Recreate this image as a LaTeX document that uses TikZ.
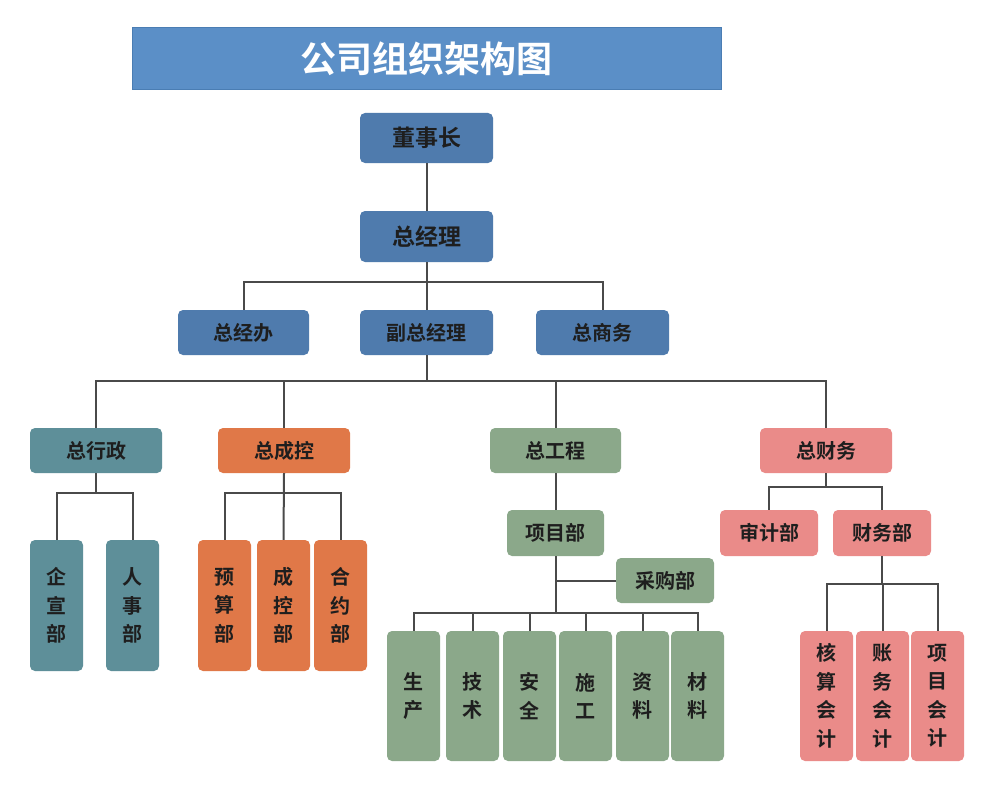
\documentclass[tikz,border=0pt]{standalone}
\usepackage{fontspec}
\newfontfamily\cjk{Noto Sans CJK SC}[BoldFont={Noto Sans CJK SC Bold}]
\definecolor{titlefill}{HTML}{5B8FC7}
\definecolor{titleline}{HTML}{4A7DB3}
\definecolor{bluebox}{HTML}{4F7BAD}
\definecolor{tealbox}{HTML}{5E8F99}
\definecolor{orangebox}{HTML}{E07848}
\definecolor{greenbox}{HTML}{8BA88A}
\definecolor{pinkbox}{HTML}{EA8B89}
\definecolor{txt}{HTML}{1E1E1E}
\definecolor{wire}{HTML}{4A4A4A}
\tikzset{
  box/.style={rectangle, rounded corners=5pt, inner sep=0pt, text=txt, align=center,
    font=\cjk\bfseries\fontsize{20}{28.5}\selectfont},
  bigbox/.style={box, fill=bluebox, minimum width=133pt, minimum height=50pt,
    font=\cjk\bfseries\fontsize{23}{28}\selectfont},
  bluesmall/.style={box, fill=bluebox, minimum width=132pt, minimum height=45pt},
  lvthree/.style={box, minimum width=132pt, minimum height=45pt},
  midbox/.style={box, minimum width=97pt, minimum height=46pt},
  tallbox/.style={box, minimum width=53pt},
  wirestyle/.style={draw=wire, line width=2pt}
}
\begin{document}
\begin{tikzpicture}[x=1pt,y=-1pt]
\useasboundingbox[fill=white] (0,0) rectangle (1000,797);
% title
\node[rectangle, fill=titlefill, draw=titleline, line width=1pt, minimum width=589pt, minimum height=62pt,
  text=white, font=\cjk\bfseries\fontsize{36}{40}\selectfont] (title) at (426.5,59) {公司组织架构图};
% level 0-1
\node[bigbox] (dsz) at (426.5,138) {董事长};
\node[bigbox, minimum height=51pt] (zjl) at (426.5,236.5) {总经理};
\node[bluesmall, minimum width=131pt] (zjb) at (243.5,332.5) {总经办};
\node[bluesmall, minimum width=133pt] (fzjl) at (426.5,332.5) {副总经理};
\node[bluesmall, minimum width=133pt] (zsw) at (602.5,332.5) {总商务};
% level 3
\node[lvthree, fill=tealbox] (zxz) at (96,450.5) {总行政};
\node[lvthree, fill=orangebox] (zck) at (284,450.5) {总成控};
\node[lvthree, fill=greenbox, minimum width=131pt] (zgc) at (555.5,450.5) {总工程};
\node[lvthree, fill=pinkbox] (zcw) at (826,450.5) {总财务};
% teal children
\node[tallbox, fill=tealbox, minimum height=131pt] (qxb) at (56.5,605.5) {企\\宣\\部};
\node[tallbox, fill=tealbox, minimum height=131pt] (rsb) at (132.5,605.5) {人\\事\\部};
% orange children
\node[tallbox, fill=orangebox, minimum height=131pt] (ysb) at (224.5,605.5) {预\\算\\部};
\node[tallbox, fill=orangebox, minimum height=131pt] (ckb) at (283.5,605.5) {成\\控\\部};
\node[tallbox, fill=orangebox, minimum height=131pt] (hyb) at (340.5,605.5) {合\\约\\部};
% green
\node[midbox, fill=greenbox] (xmb) at (555.5,533) {项目部};
\node[midbox, fill=greenbox, minimum width=98pt, minimum height=45pt] (cgb) at (665,580.5) {采购部};
\node[tallbox, fill=greenbox, minimum height=130pt] (sc) at (413.5,696) {生\\产};
\node[tallbox, fill=greenbox, minimum height=130pt] (js) at (472.5,696) {技\\术};
\node[tallbox, fill=greenbox, minimum height=130pt] (aq) at (529.5,696) {安\\全};
\node[tallbox, fill=greenbox, minimum height=130pt] (sg) at (585.5,696) {施\\工};
\node[tallbox, fill=greenbox, minimum height=130pt] (zl) at (642.5,696) {资\\料};
\node[tallbox, fill=greenbox, minimum height=130pt] (cl) at (697.5,696) {材\\料};
% pink
\node[midbox, fill=pinkbox, minimum width=98pt] (sjb) at (769,533) {审计部};
\node[midbox, fill=pinkbox, minimum width=98pt] (cwb) at (882,533) {财务部};
\node[tallbox, fill=pinkbox, minimum height=130pt] (hskj) at (826.5,696) {核\\算\\会\\计};
\node[tallbox, fill=pinkbox, minimum height=130pt] (zwkj) at (882.5,696) {账\\务\\会\\计};
\node[tallbox, fill=pinkbox, minimum height=130pt] (xmkj) at (937.5,696) {项\\目\\会\\计};
% bus coordinates
\coordinate (b1) at (426.5,282);
\coordinate (b2) at (426.5,381);
\coordinate (b3) at (96,493);
\coordinate (b4) at (284,493);
\coordinate (b5) at (555.5,613);
\coordinate (b6) at (826,487);
\coordinate (b7) at (882,584);
% connectors
\draw[wirestyle] (dsz) -- (zjl);
\draw[wirestyle] (zjl) -- (fzjl);
\draw[wirestyle] (zjb.north) |- (b1) -| (zsw.north);
\draw[wirestyle] (fzjl.south) -- (b2);
\draw[wirestyle] (zxz.north) |- (b2) -| (zcw.north);
\draw[wirestyle] (zck.north) -- (zck.north |- b2);
\draw[wirestyle] (zgc.north) -- (zgc.north |- b2);
\draw[wirestyle] (zxz.south) -- (b3);
\draw[wirestyle] (qxb.north) |- (b3) -| (rsb.north);
\draw[wirestyle] (zck.south) -- (ckb.north);
\draw[wirestyle] (ysb.north) |- (b4) -| (hyb.north);
\draw[wirestyle] (zgc.south) -- (xmb.north);
\draw[wirestyle] (xmb.south) -- (b5);
\draw[wirestyle] (cgb.west) -- (cgb.west -| xmb.south);
\draw[wirestyle] (sc.north) |- (b5) -| (cl.north);
\draw[wirestyle] (js.north) -- (js.north |- b5);
\draw[wirestyle] (aq.north) -- (aq.north |- b5);
\draw[wirestyle] (sg.north) -- (sg.north |- b5);
\draw[wirestyle] (zl.north) -- (zl.north |- b5);
\draw[wirestyle] (zcw.south) -- (b6);
\draw[wirestyle] (sjb.north) |- (b6) -| (cwb.north);
\draw[wirestyle] (cwb.south) -- (b7);
\draw[wirestyle] (hskj.north) |- (b7) -| (xmkj.north);
\draw[wirestyle] (zwkj.north) -- (zwkj.north |- b7);
\end{tikzpicture}
\end{document}
